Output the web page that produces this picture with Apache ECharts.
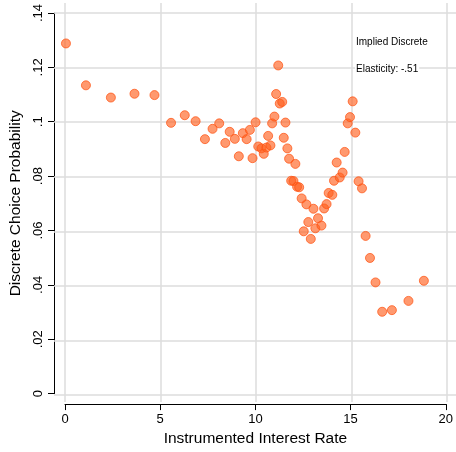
<!DOCTYPE html>
<html><head><meta charset="utf-8">
<script src="https://cdn.jsdelivr.net/npm/echarts@6/dist/echarts.min.js"></script>
<style>html,body{margin:0;padding:0;background:#fff}#c{width:456px;height:452px}</style>
</head><body><div id="c"></div>
<script>
const rateX = [0.05,1.10,2.41,3.65,4.70,5.57,6.29,6.86,7.35,7.75,8.10,8.42,8.65,8.92,9.13,9.34,9.54,9.71,9.85,10.01,10.15,10.32,10.44,10.58,10.67,10.79,10.88,11.00,11.09,11.20,11.28,11.41,11.49,11.58,11.68,11.77,11.88,12.00,12.10,12.19,12.30,12.43,12.54,12.68,12.78,12.91,13.05,13.15,13.29,13.47,13.61,13.74,13.85,14.04,14.13,14.27,14.43,14.58,14.69,14.85,14.97,15.11,15.25,15.42,15.60,15.79,16.02,16.31,16.66,17.17,18.04,18.85];
const probY = [0.1288,0.1134,0.1089,0.1103,0.1098,0.0996,0.1024,0.1002,0.0936,0.0974,0.0994,0.0922,0.0963,0.0937,0.0873,0.0958,0.0936,0.0970,0.0866,0.0998,0.0909,0.0902,0.0882,0.0905,0.0948,0.0913,0.0994,0.1019,0.1102,0.1207,0.1067,0.1073,0.0941,0.0997,0.0902,0.0864,0.0783,0.0782,0.0845,0.0761,0.0759,0.0718,0.0597,0.0696,0.0631,0.0569,0.0680,0.0608,0.0645,0.0618,0.0681,0.0697,0.0738,0.0731,0.0783,0.0850,0.0795,0.0813,0.0889,0.0994,0.1017,0.1075,0.0960,0.0781,0.0755,0.0580,0.0499,0.0409,0.0301,0.0307,0.0341,0.0415];
const xTicks = [0,5,10,15,20];
const yTicks = [0,0.02,0.04,0.06,0.08,0.10,0.12,0.14];
const noteLines = ['Implied Discrete','Elasticity: -.51'];
const xTitle = 'Instrumented Interest Rate';
const yTitle = 'Discrete Choice Probability';

const points = rateX.map((x,i)=>[x,probY[i]]);
const FONT = 'Liberation Sans, Arial, Helvetica, sans-serif';
const chart = echarts.init(document.getElementById('c'), null, {renderer:'canvas'});
const fmtY = v => { if (Math.abs(v) < 1e-9) return '0'; let s = (+v.toFixed(2)).toString(); return s.replace(/^0\./,'.'); };
chart.setOption({
  animation:false,
  backgroundColor:'#fff',
  grid:[
    {left:65, right:9, top:13, bottom:57},
    {left:54, right:0, top:3, bottom:50}
  ],
  xAxis:[
    {gridIndex:0, type:'value', min:0, max:20, interval:5, offset:10.5,
     axisLine:{show:true,onZero:false,lineStyle:{color:'#000',width:1}},
     axisTick:{show:true,length:6,lineStyle:{color:'#000',width:1}},
     axisLabel:{color:'#000',fontSize:13,fontFamily:FONT,margin:9},
     splitLine:{show:false},
     name:xTitle, nameLocation:'middle', nameGap:24,
     nameTextStyle:{color:'#000',fontSize:15.5,fontFamily:FONT}},
    {gridIndex:1, type:'value', min:-0.576, max:20.471, show:false, splitLine:{show:false}}
  ],
  yAxis:[
    {gridIndex:0, type:'value', min:0, max:0.14, interval:0.02, offset:11,
     axisLine:{show:true,onZero:false,lineStyle:{color:'#000',width:1}},
     axisTick:{show:true,length:6,lineStyle:{color:'#000',width:1}},
     axisLabel:{color:'#000',fontSize:13,fontFamily:FONT,rotate:90,margin:9,formatter:fmtY},
     splitLine:{show:false},
     name:yTitle, nameLocation:'middle', nameGap:24, nameRotate:90,
     nameTextStyle:{color:'#000',fontSize:15.5,fontFamily:FONT}},
    {gridIndex:1, type:'value', min:-0.00257, max:0.14366, show:false, splitLine:{show:false}}
  ],
  series:[
    {type:'scatter', xAxisIndex:1, yAxisIndex:1, data:[], z:1, silent:true,
     markLine:{silent:true, symbol:['none','none'], label:{show:false},
       lineStyle:{color:'#dcdcdc', width:1.5, type:'solid', opacity:1},
       data: xTicks.map(v=>({xAxis:v})).concat(yTicks.map(v=>({yAxis:v})))}},
    {type:'scatter', xAxisIndex:0, yAxisIndex:0, data:points, z:5,
     symbol:'circle', symbolSize:9,
     itemStyle:{color:'rgba(255,95,30,0.8)', borderColor:'rgba(255,80,15,0.9)', borderWidth:1}}
  ],
  graphic:[
    {type:'text', left:355, top:36, z:10, style:{text:noteLines[0], fill:'#000', fontSize:10, fontFamily:FONT, backgroundColor:'#fff', padding:[1,1]}},
    {type:'text', left:355, top:63, z:10, style:{text:noteLines[1], fill:'#000', fontSize:10, fontFamily:FONT, backgroundColor:'#fff', padding:[1,1]}}
  ]
});
</script></body></html>
